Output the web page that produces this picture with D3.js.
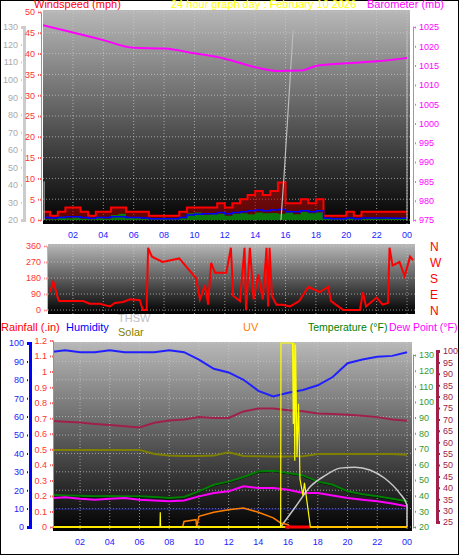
<!DOCTYPE html>
<html><head><meta charset="utf-8">
<script src="https://cdn.jsdelivr.net/npm/d3@7"></script>
<style>body{margin:0;background:#fff}text{font-family:"Liberation Sans",Arial,sans-serif}</style>
</head><body>
<svg id="c" width="459" height="555"></svg>
<script>
// ---- data ----
var hourTicks = [2,4,6,8,10,12,14,16,18,20,22,24];
var baroHours = [0,2,4,6,8,10,12,14,15.5,17,18,20,22,24];
var baroVals  = [1025.5,1023.6,1021.6,1019.6,1019.4,1018.2,1016.8,1014.6,1013.6,1013.7,1014.9,1015.6,1016.1,1017.0];
var halfHours = d3.range(0,24.01,0.5);
var gustVals  = [2,1,2,3,3,2,1,2,2,3,3,2,2,2,1,1,1,1,2,3,3,3,3,4,3,4,5,6,7,6,7,9,4,4,5,4,5,1,1,1,2,1,2,2,2,2,2,2,2];
var avgVals   = [0.6,0.5,0.6,0.8,0.8,0.6,0.4,0.6,0.6,0.8,0.8,0.6,0.6,0.5,0.3,0.3,0.3,0.3,0.6,1.2,1.4,1.5,1.5,1.8,1.5,1.8,2,2.2,2.4,2.2,2.4,2.5,2,2,2.2,2,2.2,0.4,0.3,0.3,0.5,0.3,0.5,0.5,0.5,0.5,0.4,0.4,0.4];
var lowVals   = [0.2,0.2,0.8,0.4,0.6,0.3,0.2,0.4,0.3,1.2,1.5,0.5,0.4,0.3,0.2,0.2,0.2,0.2,0.4,1.6,1.8,1.2,1.4,1.5,1,1.5,1.6,1.4,1.8,1.6,1.7,1.5,1.8,1.4,1.9,1.6,1.8,0.3,0.2,0.2,0.4,0.2,0.3,0.4,0.3,0.4,0.3,0.3,0.3];
var grayHours = [15.7,15.9,16.5];
var grayVals  = [20,45,128];
var dirHours = [0.49,0.7,1.03,1.1,2.68,3.1,3.78,4.43,4.76,5.3,5.75,6.4,6.6,6.85,6.95,7.2,7.9,9.0,9.5,10.1,10.36,10.7,10.9,11.1,11.35,12.1,12.4,12.55,13,13.3,13.4,13.65,13.9,14.2,14.5,14.75,14.85,14.95,15.1,15.4,15.8,16.3,16.9,17.5,18.25,18.8,19.0,19.8,20.9,21.1,21.3,22,22.4,22.75,22.85,23.05,23.5,23.85,24.2,24.4];
var dirVals  = [100,160,60,50,50,35,35,20,40,45,60,55,0,0,350,300,270,290,240,180,60,140,30,265,210,210,350,80,50,350,0,350,60,200,60,350,20,350,80,30,30,20,50,130,100,130,50,0,0,100,20,70,30,40,350,250,270,190,300,280];
var dirLabels = ["N","W","S","E","N"];
var bHours = [0,1,2,3,4,5,6,7,8,9,10,11,12,13,14,15,16,17,18,19,20,21,22,23,24];
var humVals  = [95,96,95,95,96,95,95,95,96,95,91,86,84,80,74,71,73,74.5,77,81.5,89,91,92.5,93,95];
var tempVals = [40.6,40.2,40,39.6,39.8,39.6,39.6,39.2,38.5,39.2,42.8,47,49,52,55.5,56,54.5,53,49,47,42.8,41,39.6,38,36.4];
var dewVals  = [38.5,39,38,37.5,38,38.5,37.5,37,36.4,37,39.6,41.7,42.8,46,45,45,43.8,41.7,41.7,40.2,38.5,37.5,36.4,35,33.2];
var inTempVals = [69.4,69,68.6,68,67.5,67,66.5,68.5,69.5,70,71,70.6,70.6,73.5,74.8,74.8,74,73.6,72.6,72.4,72,71.6,71,70,69.4];
var oliveVals = [41.9,41.9,41.9,41.9,41.9,41.9,41.9,39.7,38.8,38.6,38.6,38.8,40.6,38.6,38.4,38.3,38.3,38.4,39.7,39.7,39.7,39.7,39.7,39.7,39.2];
var thswHours = [15.5,16.5,17.5,18.5,19.5,20.5,21.5,22.5,23.5,24,24];
var thswVals  = [0,11,22,28,32,32.5,31,26.5,18.4,12,0];
var uvHours = [8.9,9,9.8,9.85,10,11,12,13,14,15,15.5,16,16.1];
var uvVals  = [0,3,4,0,5.8,8,9.4,10.3,8,5,2.2,1.3,0];
var solarHours = [0,7.38,7.4,7.42,15.5,15.52,16.3,16.35,16.4,16.45,16.5,16.6,16.7,16.8,17,17.1,17.4,17.5,24];
var solarVals  = [0,0,8,0,0,100,100,56,100,36,99,38,67,26,17,24,6,0,0];
var rainLevel = 9.7;

var svg = d3.select("#c");
var defs = svg.append("defs");
var g = defs.append("linearGradient").attr("id","bg").attr("x1",0).attr("x2",0).attr("y1",0).attr("y2",1);
g.append("stop").attr("offset","0%").attr("stop-color","#b8b8b8");
g.append("stop").attr("offset","100%").attr("stop-color","#000");
svg.append("rect").attr("x",0.5).attr("y",0.5).attr("width",458).attr("height",554).attr("fill","#fff").attr("stroke","#000");

function panel(x0,y0,x1,y1,id){
  defs.append("clipPath").attr("id",id).append("rect").attr("x",x0).attr("y",y0).attr("width",x1-x0).attr("height",y1-y0);
  svg.append("rect").attr("x",x0).attr("y",y0).attr("width",x1-x0).attr("height",y1-y0).attr("fill","url(#bg)");
  return svg.append("g").attr("clip-path","url(#"+id+")");
}
function grid(p,x,ys,x0,x1,y0,y1){
  hourTicks.forEach(function(h){p.append("line").attr("x1",x(h)).attr("x2",x(h)).attr("y1",y0).attr("y2",y1)
    .attr("stroke","#ccc").attr("stroke-dasharray","1,2").attr("opacity",0.7);});
  ys.forEach(function(y){p.append("line").attr("x1",x0).attr("x2",x1).attr("y1",y).attr("y2",y)
    .attr("stroke","#ccc").attr("stroke-dasharray","1,2").attr("opacity",0.7);});
}
function vaxis(x,scale,ticks,color,side,fmt,lineColor,lw){
  var ax = (side=="left"?d3.axisLeft(scale):d3.axisRight(scale)).tickValues(ticks).tickSize(3).tickFormat(fmt||d3.format("d"));
  var a = svg.append("g").attr("transform","translate("+x+",0)").call(ax);
  a.selectAll("text").attr("fill",color).style("font-size","9px").style("font-family","Liberation Sans");
  a.selectAll("line").attr("stroke",lineColor||color).attr("stroke-width",2).attr("stroke-dasharray","1,1");
  a.select(".domain").attr("stroke",lineColor||color).attr("stroke-width",lw||1);
  return a;
}
function xlabels(x,y){
  svg.append("g").selectAll("text").data(hourTicks).enter().append("text")
    .attr("x",function(h){return x(h);}).attr("y",y).attr("text-anchor","middle")
    .attr("fill","#2222ff").style("font-size","9px").text(function(h){return d3.format("02")(h%24);});
}
function txt(s,x,y,c,size){svg.append("text").attr("x",x).attr("y",y).attr("fill",c).style("font-size",(size||11)+"px").text(s);}

// ---- top panel ----
var xT = d3.scaleLinear().domain([0,24]).range([42.6,407]);
var yWind = d3.scaleLinear().domain([0,50]).range([220,12]);
var yGray = d3.scaleLinear().domain([20,130]).range([220,27]);
var yBaro = d3.scaleLinear().domain([975,1025]).range([220,27]);
var pT = panel(43,10,410,224,"cT");
grid(pT,xT,d3.range(0,51,5).map(yWind),43,410,10,224);
var wd = halfHours.map(function(h,i){return {h:h,g:gustVals[i],a:avgVals[i],l:lowVals[i]};});
pT.append("path").datum(wd).attr("fill","#c00000").attr("opacity",0.5)
  .attr("d",d3.area().curve(d3.curveStepAfter).x(function(d){return xT(d.h);}).y0(yWind(0)).y1(function(d){return yWind(d.g);}));
pT.append("path").datum(wd).attr("fill","none").attr("stroke","#ff0000").attr("stroke-width",2)
  .attr("d",d3.line().curve(d3.curveStepAfter).x(function(d){return xT(d.h);}).y(function(d){return yWind(d.g);}));
pT.append("path").datum(wd).attr("fill","#0a7a0a")
  .attr("d",d3.area().curve(d3.curveStepAfter).x(function(d){return xT(d.h);}).y0(yWind(0)).y1(function(d){return yWind(d.l);}));
pT.append("path").datum(wd).attr("fill","none").attr("stroke","#0000ff").attr("stroke-width",1.5)
  .attr("d",d3.line().curve(d3.curveStepAfter).x(function(d){return xT(d.h);}).y(function(d){return yWind(d.a);}));
pT.append("path").datum(grayHours.map(function(h,i){return [xT(h),yGray(grayVals[i])];}))
  .attr("fill","none").attr("stroke","#bbb").attr("stroke-width",1.2).attr("d",d3.line());
pT.append("line").attr("x1",xT(0.1)).attr("x2",xT(0.1)).attr("y1",yGray(20)).attr("y2",yGray(42)).attr("stroke","#bbb");
pT.append("line").attr("x1",xT(24)).attr("x2",xT(24)).attr("y1",yGray(20)).attr("y2",yGray(128)).attr("stroke","#bbb");
pT.append("path").datum(baroHours.map(function(h,i){return [xT(h),yBaro(baroVals[i])];}))
  .attr("fill","none").attr("stroke","#ff00ff").attr("stroke-width",2).attr("d",d3.line().curve(d3.curveMonotoneX));
vaxis(24,yGray,d3.range(20,131,10),"#aaa","left",null,"#ccc",3);
vaxis(41,yWind,d3.range(0,51,5),"#ff3333","left",null,"#ff6666",1);
vaxis(413,yBaro,d3.range(975,1026,5),"#ff00ff","right",null,"#ff55ff",1);
xlabels(xT,238);
txt("Windspeed (mph)",34,8,"#ff0000");
txt("24 hour graph day : February 10 2026",171,8,"#ffff00");
txt("Barometer (mb)",367,8,"#ff00ff");

// ---- middle panel ----
var yDir = d3.scaleLinear().domain([0,360]).range([310,246]);
var pM = panel(48,244,415,314,"cM");
grid(pM,xT,[0,90,180,270,360].map(yDir),48,415,244,314);
pM.append("path").datum(dirHours.map(function(h,i){return [xT(h),yDir(dirVals[i])];}))
  .attr("fill","none").attr("stroke","#ff0000").attr("stroke-width",2).attr("d",d3.line());
vaxis(47,yDir,[0,90,180,270,360],"#ff3333","left",null,"#ff9999",1);
svg.append("g").selectAll("text").data(dirLabels).enter().append("text")
  .attr("x",430).attr("y",function(d,i){return yDir(360-i*90)+5;}).attr("fill","#ff0000").style("font-size","12px").text(function(d){return d;});

txt("Rainfall (.in)",1,331,"#ff0000");
txt("Humidity",66,331,"#0000ff");
txt("THSW",118,322,"#c0c0c0");
txt("Solar",118,336,"#808000");
txt("UV",243,331,"#ff8000");
txt("Temperature (°F)",308,331,"#008000",10.5);
txt("Dew Point (°F)",389,331,"#ff00ff",10.5);

// ---- bottom panel ----
var xB = d3.scaleLinear().domain([0,24]).range([50.3,407]);
var yHum = d3.scaleLinear().domain([0,100]).range([527,343]);
var yRain = d3.scaleLinear().domain([0,1.2]).range([527,340.5]);
var yTemp = d3.scaleLinear().domain([20,130]).range([527,355]);
var yIn = d3.scaleLinear().domain([25,100]).range([522,351]);
var pB = panel(53,342,412,531,"cB");
grid(pB,xB,d3.range(0,101,10).map(yHum),53,412,342,531);
function bline(hrs,vals,ys,color,w,curve){
  pB.append("path").datum(hrs.map(function(h,i){return [xB(h),ys(vals[i])];}))
    .attr("fill","none").attr("stroke",color).attr("stroke-width",w||2).attr("d",d3.line().curve(curve||d3.curveLinear));
}
bline([0,24],[rainLevel,rainLevel],yHum,"#202090",1);
bline(bHours,oliveVals,yHum,"#808000",2);
bline(bHours,inTempVals,yIn,"#a0204a",2);
bline(bHours,tempVals.map(function(v){return v-0.6;}),yTemp,"#000",1);
bline(bHours,tempVals,yTemp,"#008000",2);
bline(bHours,dewVals,yTemp,"#ff00ff",2);
bline(bHours,humVals,yHum,"#2020ff",2);
bline(thswHours,thswVals,yHum,"#c8c8c8",1.5,d3.curveMonotoneX);
bline(uvHours,uvVals,yHum,"#ff8000",1.5);
bline([0,24],[0,0],yHum,"#ffd000",2);
bline([17.5,24],[0,0],yHum,"#ff8000",2);
bline([15.8,17.5],[0,0],yHum,"#ff0000",3);
bline(solarHours,solarVals,yHum,"#ffff00",1.2);
vaxis(30,yHum,d3.range(0,101,10),"#2222ff","left",null,"#0000ff",3);
vaxis(53,yRain,d3.range(0,1.21,0.1),"#ff3333","left",d3.format("~g"),"#ff6666",1);
vaxis(413,yTemp,d3.range(20,131,10),"#339933","right",null,"#66aa66",1);
vaxis(437,yIn,d3.range(25,101,5),"#a0204a","right",null,"#a0204a",3);
xlabels(xB,545);
</script>
</body></html>
